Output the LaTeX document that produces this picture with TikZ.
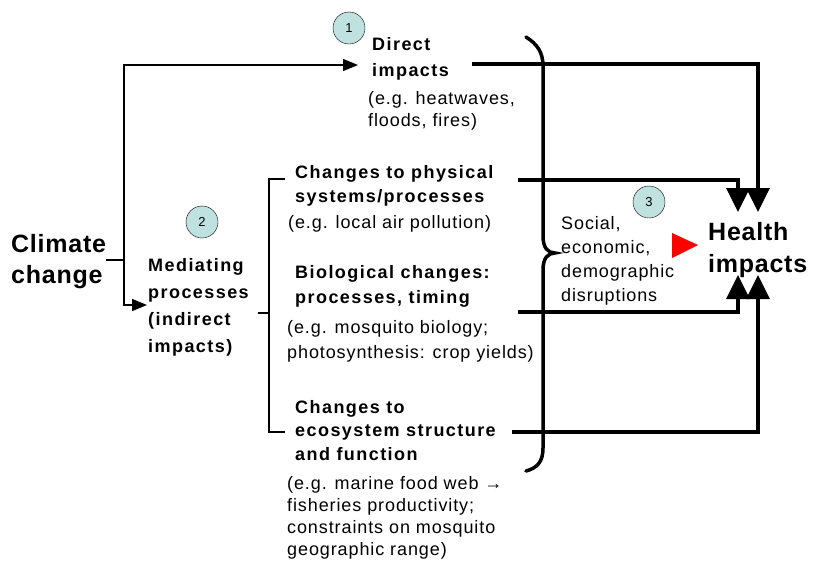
\documentclass[tikz,border=0pt]{standalone}
\usepackage{fontspec}
\setmainfont{Liberation Sans}
\newfontfamily\bigf{Liberation Sans}[LetterSpace=3]
\newfontfamily\midf{Liberation Sans}[LetterSpace=8]
\newfontfamily\smallf{Liberation Sans}[LetterSpace=5]
\usetikzlibrary{arrows.meta}
\definecolor{numfill}{HTML}{BFE2E0}
% multi-line text nodes sit on the baseline of their last line
\tikzset{bigtxt/.style = {font=\bigf\bfseries\fontsize{25}{#1}\selectfont, align=left, inner sep=0pt, anchor=base west},
    bigtxt/.default=31,
    boldtxt/.style = {font=\midf\bfseries\fontsize{18}{#1}\selectfont, align=left, inner sep=0pt, anchor=base west},
    boldtxt/.default=25,
    egtxt/.style = {font=\smallf\fontsize{18}{#1}\selectfont, align=left, inner sep=0pt, anchor=base west},
    egtxt/.default=23,
    numc/.style = {circle, draw, thin, fill=numfill, minimum size=32pt, inner sep=0pt, font=\fontsize{13}{13}\selectfont},
    thinl/.style = {line width=1.4pt},
    thinarr/.style = {line width=1.4pt, -{Triangle[length=15pt,width=12pt]}},
    heavy/.style = {line width=3.5pt, -{Triangle[length=24pt,width=23pt]}}}

\begin{document}
\begin{tikzpicture}[x=1pt, y=-1pt]
    \useasboundingbox (0,0) rectangle (813,560);

    % texts
    \node[bigtxt] (climate) at (11,283) {Climate\\change};
    \node[boldtxt=26] (direct) at (372,76) {Direct\\impacts};
    \node[egtxt=22] (directeg) at (368,126) {(e.g. heatwaves,\\floods, fires)};
    \node[boldtxt=26.7] (med) at (148,352) {Mediating\\processes\\(indirect\\impacts)};
    \node[boldtxt=24] (phys) at (295,202) {Changes to physical\\systems/processes};
    \node[egtxt] (physeg) at (288,228) {(e.g. local air pollution)};
    \node[boldtxt] (bio) at (295,303) {Biological changes:\\processes, timing};
    \node[egtxt=25] (bioeg) at (287,358) {(e.g. mosquito biology;\\photosynthesis: crop yields)};
    \node[boldtxt=23.5] (eco) at (295,460) {Changes to\\ecosystem structure\\and function};
    \node[egtxt=21.7] (ecoeg) at (287,555) {(e.g. marine food web \symbol{"2192}\\fisheries productivity;\\constraints on mosquito\\geographic range)};
    \node[egtxt=24] (social) at (561,301) {Social,\\economic,\\demographic\\disruptions};
    \node[bigtxt=32] (health) at (708,272) {Health\\impacts};

    % numbers
    \node[numc] (c1) at (349,28) {1};
    \node[numc] (c2) at (202,222) {2};
    \node[numc] (c3) at (649,202) {3};

    % climate change fork
    \coordinate (fork) at (124,260);
    \coordinate (ctop) at (124,65);
    \coordinate (cbot) at (124,305);
    \draw[thinl] (climate.east |- fork) -- (fork);
    \draw[thinarr] (cbot) -- (ctop) -- ([xshift=-14pt]direct.west |- ctop);
    \draw[thinarr] (ctop) -- (cbot) -- ([xshift=-1pt]med.west |- cbot);

    % mediating branches
    \coordinate (btop) at (269,179);
    \coordinate (bmid) at (269,313);
    \coordinate (bbot) at (269,432);
    \draw[thinl] ([xshift=-10pt]phys.west |- btop) -- (btop) -- (bbot) -- ([xshift=-10pt]eco.west |- bbot);
    \draw[thinl] (258,313) -- (bmid);

    % heavy lines to health impacts
    \coordinate (dS) at (472,64);
    \coordinate (pS) at (518,180);
    \coordinate (bS) at (518,312);
    \coordinate (eS) at (512,432);
    \coordinate (h1) at (738,212);
    \coordinate (h2) at (758,212);
    \coordinate (h3) at (738,275);
    \coordinate (h4) at (758,275);
    \draw[heavy] (dS) -| (h2);
    \draw[heavy] (pS) -| (h1);
    \draw[heavy] (bS) -| (h3);
    \draw[heavy] (eS) -| (h4);

    % brace
    \draw[line width=3.5pt, line cap=round] (526,37) .. controls (537,44) and (543,52) .. (543,66) -- (543,236)
        .. controls (543,248) and (548,253) .. (555,253) .. controls (548,253) and (543,258) .. (543,270)
        -- (543,448) .. controls (543,462) and (537,468) .. (526,471);

    % red pointer
    \fill[red] (672,233) -- (672,258) -- (698,245) -- cycle;
\end{tikzpicture}
\end{document}
